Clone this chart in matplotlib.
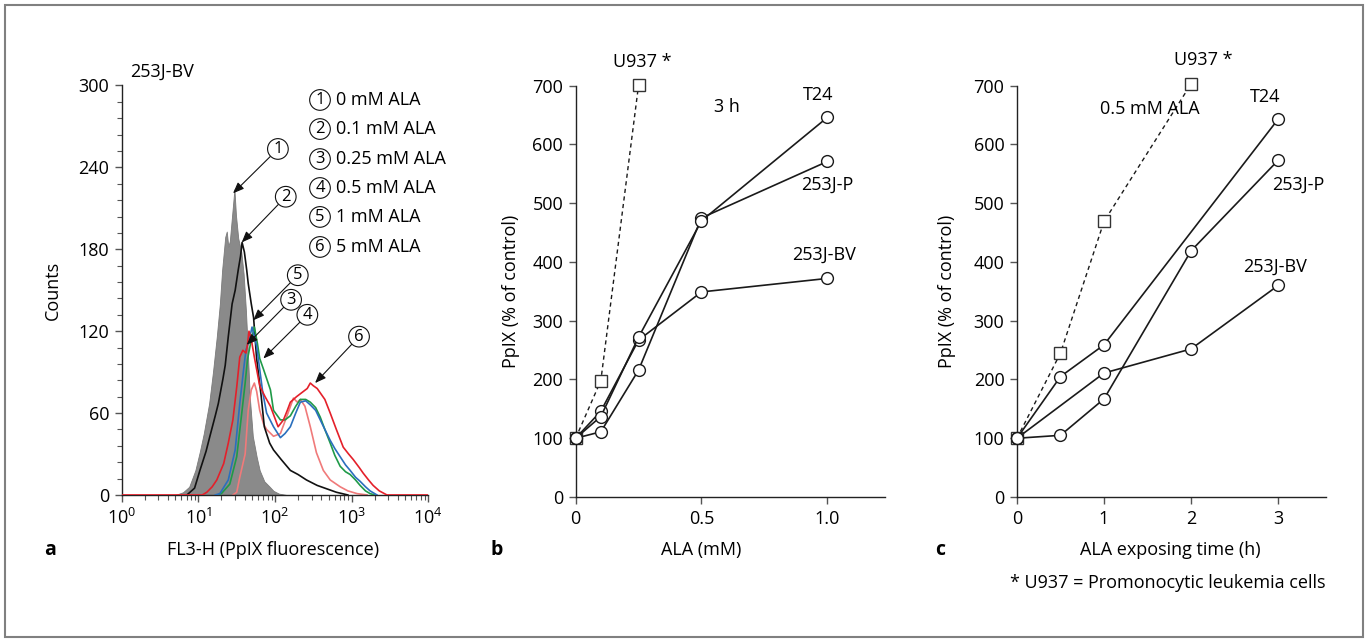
import numpy as np
import matplotlib
matplotlib.use("Agg")
import matplotlib.pyplot as plt
from matplotlib.patches import Rectangle
from matplotlib.ticker import MultipleLocator, LogLocator, NullFormatter

FS = 13
plt.rcParams['font.family'] = ['Open Sans', 'DejaVu Sans']
plt.rcParams['font.size'] = FS
plt.rcParams['mathtext.default'] = 'regular'

##############################
#  panel a : FL3-H histograms (log10 channel, counts)
##############################
ctrl_log = [0.70, 0.80, 0.88, 0.96, 1.02, 1.07, 1.14, 1.19, 1.24, 1.28, 1.31, 1.35, 1.37, 1.39, 1.41,
            1.44, 1.47, 1.49, 1.52, 1.56, 1.59, 1.62, 1.64, 1.67, 1.71, 1.76, 1.80, 1.86, 1.93, 1.98, 2.05, 2.15]
ctrl_cnt = [0, 2, 6, 18, 32, 45, 67, 90, 116, 140, 165, 189, 193, 182, 186,
            205, 224, 205, 188, 178, 162, 135, 112, 72, 43, 28, 18, 10, 6, 3, 1, 0]

ala01_log = [0.85, 0.95, 1.02, 1.10, 1.15, 1.22, 1.26, 1.32, 1.35, 1.39, 1.44, 1.48, 1.52, 1.55, 1.57, 1.60,
             1.63, 1.65, 1.69, 1.72, 1.76, 1.82, 1.86, 1.93, 1.98, 2.08, 2.20, 2.30, 2.41, 2.55, 2.65, 2.80, 2.95]
ala01_cnt = [0, 5, 18, 32, 43, 58, 67, 85, 95, 116, 140, 150, 165, 175, 185, 178,
             165, 155, 140, 130, 100, 72, 50, 38, 33, 26, 18, 15, 11, 7, 5, 2, 0]

ala025_log = [1.45, 1.50, 1.54, 1.61, 1.65, 1.69, 1.73, 1.76, 1.80, 1.85, 1.89, 1.98, 2.07, 2.15, 2.24,
              2.29, 2.33, 2.39, 2.46, 2.54, 2.63, 2.72, 2.85, 2.95, 3.07, 3.20]
ala025_cnt = [0, 2, 13, 30, 62, 77, 82, 76, 62, 52, 48, 43, 45, 57, 71,
              68, 70, 65, 50, 31, 18, 11, 6, 3, 1, 0]

ala05_log = [1.25, 1.30, 1.41, 1.50, 1.57, 1.61, 1.64, 1.68, 1.73, 1.77, 1.80, 1.85, 1.94, 1.98, 2.07, 2.13,
             2.20, 2.27, 2.33, 2.40, 2.46, 2.53, 2.59, 2.65, 2.72, 2.78, 2.85, 2.92, 2.98, 3.05, 3.11, 3.18, 3.24, 3.30]
ala05_cnt = [0, 1, 8, 28, 62, 82, 99, 111, 123, 111, 100, 92, 77, 62, 55, 55,
             58, 65, 70, 70, 68, 64, 57, 48, 38, 29, 21, 17, 15, 11, 7, 3, 1, 0]

ala1_log = [1.22, 1.28, 1.39, 1.48, 1.54, 1.59, 1.62, 1.66, 1.70, 1.76, 1.80, 1.84, 1.89, 1.98, 2.07, 2.13,
            2.20, 2.27, 2.33, 2.40, 2.46, 2.53, 2.59, 2.65, 2.72, 2.78, 2.85, 2.92, 2.98, 3.05, 3.11, 3.18, 3.24, 3.33]
ala1_cnt = [0, 1, 11, 33, 67, 92, 106, 113, 123, 109, 92, 75, 60, 50, 42, 45,
            50, 60, 68, 69, 66, 62, 55, 48, 40, 34, 28, 22, 18, 13, 10, 6, 3, 0]

ala5_log = [0.0, 1.05, 1.11, 1.18, 1.24, 1.33, 1.39, 1.45, 1.50, 1.54, 1.58, 1.62, 1.64, 1.66, 1.69, 1.73,
            1.78, 1.80, 1.87, 1.94, 2.00, 2.04, 2.11, 2.16, 2.20, 2.28, 2.35, 2.42, 2.46, 2.50, 2.55, 2.60,
            2.65, 2.72, 2.80, 2.89, 2.96, 3.02, 3.10, 3.15, 3.22, 3.28, 3.36, 3.46, 4.0]
ala5_cnt = [0, 0, 2, 6, 11, 23, 38, 55, 79, 101, 106, 104, 110, 120, 114, 101,
            86, 80, 72, 65, 56, 50, 55, 62, 68, 72, 75, 78, 82, 80, 78, 74,
            70, 60, 48, 35, 30, 26, 20, 16, 11, 7, 3, 0, 0]

legend_nums = ['1', '2', '3', '4', '5', '6']
legend_text = ['0 mM ALA', '0.1 mM ALA', '0.25 mM ALA', '0.5 mM ALA', '1 mM ALA', '5 mM ALA']

##############################
#  panel b : dose response (3 h)
##############################
dose = [0, 0.1, 0.25, 0.5, 1.0]
dose_t24 = [100, 137, 272, 470, 646]
dose_p = [100, 111, 216, 475, 571]
dose_bv = [100, 146, 267, 349, 372]
dose_u937_x = [0, 0.1, 0.25]
dose_u937 = [100, 198, 701]

##############################
#  panel c : time course (0.5 mM ALA)
##############################
time_t24_x = [0, 0.5, 1, 3]
time_t24 = [100, 205, 259, 643]
time_p_x = [0, 0.5, 1, 2, 3]
time_p = [100, 105, 167, 419, 573]
time_bv_x = [0, 1, 2, 3]
time_bv = [100, 211, 252, 360]
time_u937_x = [0, 0.5, 1, 2]
time_u937 = [100, 245, 469, 703]

SPINE = '#222222'
TICK = '#555555'

fig = plt.figure(figsize=(13.68, 6.39), dpi=100)
fig.patches.append(Rectangle((0.0037, 0.003), 0.9927, 0.989, transform=fig.transFigure,
                             fill=False, ec='#808080', lw=1.5))


def style_axes(ax):
	for s in ['top', 'right']:
		ax.spines[s].set_visible(False)
	for s in ['left', 'bottom']:
		ax.spines[s].set_color(SPINE)
		ax.spines[s].set_linewidth(1.0)
	ax.tick_params(which='major', direction='out', length=5, width=1, color=TICK, labelsize=FS, pad=4)
	ax.tick_params(which='minor', direction='out', length=3.5, width=0.8, color=TICK)


#-- panel a
axa = fig.add_axes([0.0890, 0.2254, 0.2241, 0.6408])
style_axes(axa)
axa.fill_between(10 ** np.array(ctrl_log), 0, ctrl_cnt, color='#8a8a8a', lw=0.6, ec='#7a7a7a', zorder=1)
axa.plot(10 ** np.array(ala01_log), ala01_cnt, color='#111111', lw=1.2, zorder=3)
axa.plot(10 ** np.array(ala025_log), ala025_cnt, color='#f07a7a', lw=1.2, zorder=2)
axa.plot(10 ** np.array(ala05_log), ala05_cnt, color='#1f9a48', lw=1.2, zorder=4)
axa.plot(10 ** np.array(ala1_log), ala1_cnt, color='#2a6fbd', lw=1.2, zorder=4)
axa.plot(10 ** np.array(ala5_log), ala5_cnt, color='#e4202a', lw=1.2, zorder=5)
axa.set_xscale('log')
axa.set_xlim(1, 1e4)
axa.set_ylim(0, 300)
axa.xaxis.set_major_locator(LogLocator(base=10, numticks=10))
axa.xaxis.set_minor_locator(LogLocator(base=10, subs=np.arange(2, 10), numticks=100))
axa.xaxis.set_minor_formatter(NullFormatter())
axa.yaxis.set_major_locator(MultipleLocator(60))
axa.yaxis.set_minor_locator(MultipleLocator(12))
axa.set_ylabel('Counts', fontsize=FS)
axa.yaxis.set_label_coords(-0.195, 0.5)
axa.text(1.28, 310, '253J-BV', ha='left', va='center', clip_on=False)

circ = dict(boxstyle='circle,pad=0.14', fc='white', ec='#111111', lw=0.8)
leg_y = [289.4, 268.1, 246.1, 224.9, 203.7, 181.7]
for num, lab, yy in zip(legend_nums, legend_text, leg_y):
	axa.text(386, yy, num, ha='center', va='center', bbox=circ, fontsize=12)
	axa.text(620, yy, lab, ha='left', va='center')

#-- arrows pointing to the traces: (label, tip, circle)
arrow_lab = ['1', '2', '5', '3', '4', '6']
arrow_tip = [(28.3, 221), (36.7, 185), (52, 128), (42.7, 110), (70.4, 100), (333, 82)]
arrow_txt = [(109, 253.5), (138, 218.5), (198, 161), (162, 143), (264, 132), (1247, 116)]
for lab, tip, txt in zip(arrow_lab, arrow_tip, arrow_txt):
	axa.annotate(lab, xy=tip, xytext=txt, ha='center', va='center', fontsize=12, bbox=circ, zorder=6,
	             arrowprops=dict(arrowstyle='-|>,head_length=0.55,head_width=0.22', color='#111111',
	                             lw=0.8, shrinkA=0, shrinkB=0))

#-- panel b
axb = fig.add_axes([0.4208, 0.2222, 0.2261, 0.6437])
style_axes(axb)
lk = dict(color='#1a1a1a', lw=1.2, marker='o', ms=8.5, mfc='white', mec='#1a1a1a', mew=1.0, clip_on=False)
uk = dict(color='#1a1a1a', lw=1.0, ls=(0, (3, 2.5)), marker='s', ms=8, mfc='white', mec='#333333', mew=1.0,
          clip_on=False, zorder=2)
axb.plot(dose_u937_x, dose_u937, **uk)
axb.plot(dose, dose_bv, zorder=3, **lk)
axb.plot(dose, dose_p, zorder=3, **lk)
axb.plot(dose, dose_t24, zorder=3, **lk)
axb.set_xlim(0, 1.229)
axb.set_ylim(0, 700)
axb.set_xticks([0, 0.5, 1.0])
axb.set_xticklabels(['0', '0.5', '1.0'])
axb.yaxis.set_major_locator(MultipleLocator(100))
axb.set_ylabel('PpIX (% of control)', fontsize=FS)
axb.yaxis.set_label_coords(-0.180, 0.5)
axb.text(0.264, 741, 'U937 *', ha='center', va='center')
axb.text(0.601, 663, '3 h', ha='center', va='center')
axb.text(0.963, 685, 'T24', ha='center', va='center')
axb.text(0.999, 531, '253J-P', ha='center', va='center')
axb.text(0.987, 412, '253J-BV', ha='center', va='center')

#-- panel c
axc = fig.add_axes([0.7434, 0.2222, 0.2259, 0.6437])
style_axes(axc)
axc.plot(time_u937_x, time_u937, **uk)
axc.plot(time_bv_x, time_bv, zorder=3, **lk)
axc.plot(time_p_x, time_p, zorder=3, **lk)
axc.plot(time_t24_x, time_t24, zorder=3, **lk)
axc.set_xlim(0, 3.55)
axc.set_ylim(0, 700)
axc.set_xticks([0, 1, 2, 3])
axc.yaxis.set_major_locator(MultipleLocator(100))
axc.set_ylabel('PpIX (% of control)', fontsize=FS)
axc.yaxis.set_label_coords(-0.197, 0.5)
axc.text(2.138, 744, 'U937 *', ha='center', va='center')
axc.text(1.529, 661, '0.5 mM ALA', ha='center', va='center')
axc.text(2.851, 681, 'T24', ha='center', va='center')
axc.text(3.23, 531, '253J-P', ha='center', va='center')
axc.text(2.966, 392, '253J-BV', ha='center', va='center')

#-- x labels, panel letters, footnote
ylab = 1 - 550 / 639.
fig.text(273 / 1368., ylab, 'FL3-H (PpIX fluorescence)', ha='center', va='center')
fig.text(701 / 1368., ylab, 'ALA (mM)', ha='center', va='center')
fig.text(1170 / 1368., ylab, 'ALA exposing time (h)', ha='center', va='center')
fig.text(50 / 1368., ylab, 'a', ha='center', va='center', fontweight='bold', fontsize=14)
fig.text(497 / 1368., ylab, 'b', ha='center', va='center', fontweight='bold', fontsize=14)
fig.text(940 / 1368., ylab, 'c', ha='center', va='center', fontweight='bold', fontsize=14)
fig.text(1326 / 1368., 1 - 583 / 639., '* U937 = Promonocytic leukemia cells', ha='right', va='center')

plt.savefig('out.png', dpi=100)
